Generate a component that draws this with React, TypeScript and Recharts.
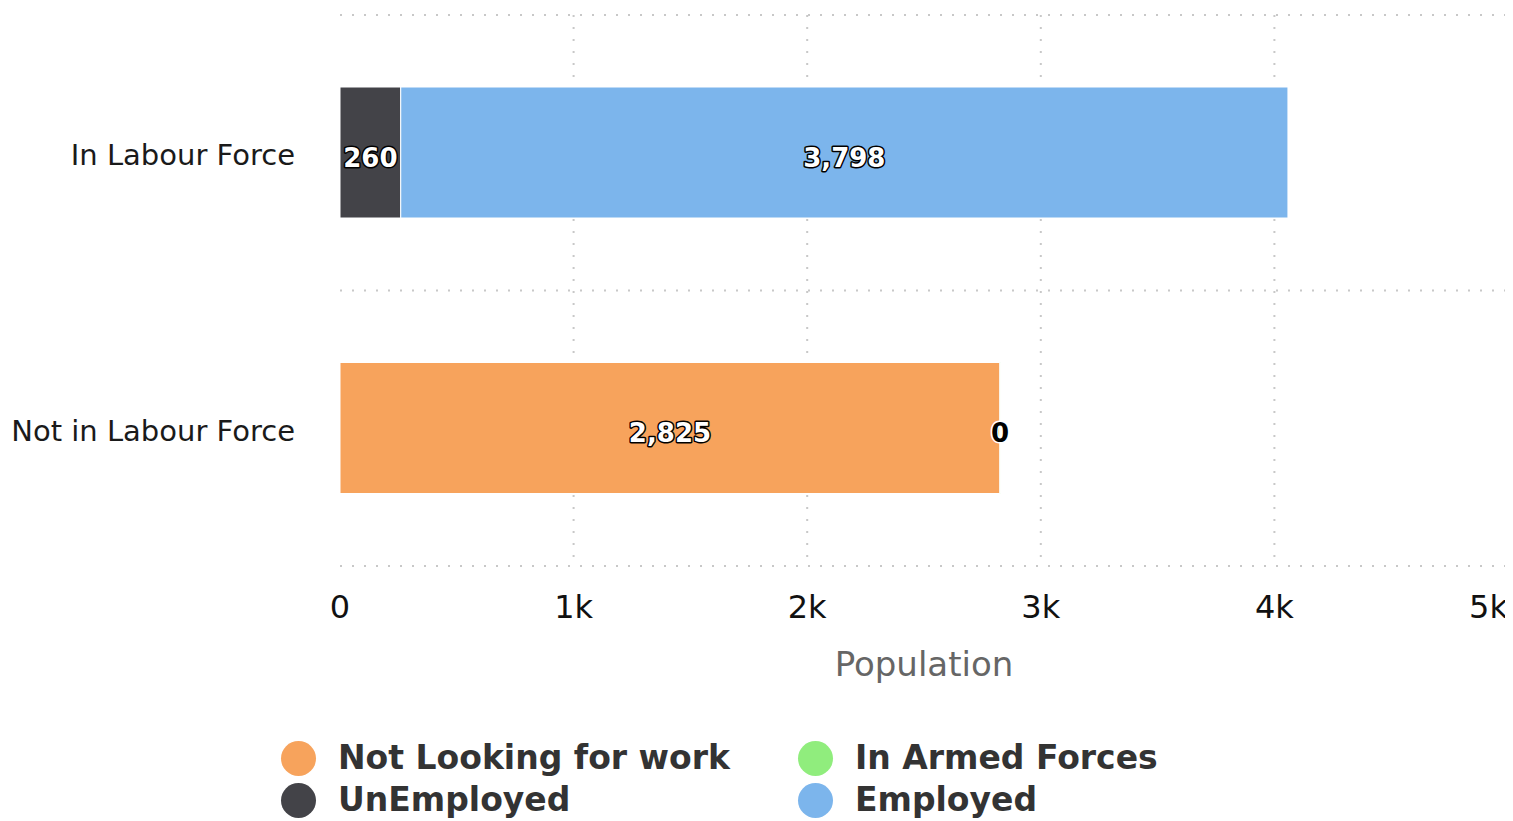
import React from 'react';
import { BarChart, Bar, XAxis, YAxis, CartesianGrid, Legend, LabelList } from 'recharts';

const categories = ['In Labour Force', 'Not in Labour Force'];
const notLooking: (number | null)[] = [null, 2825];
const armedForces: (number | null)[] = [null, 0];
const unemployed: (number | null)[] = [260, null];
const employed: (number | null)[] = [3798, null];
const xTicks = [0, 1000, 2000, 3000, 4000, 5000];

const FONT = "'DejaVu Sans', sans-serif";

const series = [
  { key: 'notLooking', name: 'Not Looking for work', color: '#f7a35c', values: notLooking },
  { key: 'armedForces', name: 'In Armed Forces', color: '#90ed7d', values: armedForces },
  { key: 'unemployed', name: 'UnEmployed', color: '#434348', values: unemployed },
  { key: 'employed', name: 'Employed', color: '#7cb5ec', values: employed },
];

const data = categories.map((c, i) => {
  const row: Record<string, any> = { category: c };
  series.forEach((s) => {
    row[s.key] = s.values[i];
  });
  return row;
});

const fmtK = (v: number) => (v === 0 ? '0' : `${v / 1000}k`);

const makeLabel = (key: string) => (props: any) => {
  const { x, y, width, height } = props;
  const row = data.find((d) => {
    return props.payload ? d.category === props.payload.category : false;
  });
  let v: any = props.value;
  if (row) v = row[key];
  if (v == null || Number.isNaN(Number(v))) return null;
  const cx = Number(x) + Number(width) / 2;
  const cy = Number(y) + Number(height) / 2 + 5;
  const inside = v > 0;
  return (
    <text
      x={cx}
      y={cy}
      dy="0.355em"
      textAnchor="middle"
      fontFamily={FONT}
      fontSize={26}
      fontWeight="bold"
      fill={inside ? '#ffffff' : '#000000'}
      stroke={inside ? '#000000' : '#ffffff'}
      strokeWidth={3}
      strokeLinejoin="round"
      paintOrder="stroke"
    >
      {Number(v).toLocaleString('en-US')}
    </text>
  );
};

const XTick = (props: any) => {
  const { x, y, payload } = props;
  const isLast = payload.value === xTicks[xTicks.length - 1];
  return (
    <text
      x={x}
      y={y}
      dy="0.71em"
      textAnchor={isLast ? 'end' : 'middle'}
      fontFamily={FONT}
      fontSize={32}
      fill="#111111"
    >
      {fmtK(payload.value)}
    </text>
  );
};

const YTick = (props: any) => {
  const { x, y, payload } = props;
  return (
    <text x={x} y={y + 2} dy="0.355em" textAnchor="end" fontFamily={FONT} fontSize={29} fill="#1a1a1a">
      {payload.value}
    </text>
  );
};

const renderLegend = () => {
  return (
    <div
      style={{
        display: 'grid',
        gridTemplateColumns: '517px 517px',
        paddingLeft: 273,
        paddingTop: 1,
        fontFamily: FONT,
      }}
    >
      {series.map((s) => (
        <div key={s.key} style={{ display: 'flex', alignItems: 'center', height: 42 }}>
          <span
            style={{
              display: 'inline-block',
              width: 35,
              height: 35,
              borderRadius: '50%',
              background: s.color,
              marginRight: 22,
            }}
          />
          <span style={{ fontSize: 33, fontWeight: 'bold', color: '#333333', lineHeight: '42px' }}>
            {s.name}
          </span>
        </div>
      ))}
    </div>
  );
};

export default function App() {
  return (
    <div style={{ width: 1505, height: 813, fontFamily: FONT }}>
      <BarChart
        width={1505}
        height={813}
        data={data}
        layout="vertical"
        margin={{ top: 7, right: 5, left: 0, bottom: 0 }}
        barSize={131}
      >
        <CartesianGrid
          stroke="#c8c8c8"
          strokeWidth={2}
          strokeDasharray="2 10"
          horizontalCoordinatesGenerator={({ offset }: any) => [
            offset.top,
            offset.top + offset.height / 2,
            offset.top + offset.height,
          ]}
          verticalCoordinatesGenerator={({ offset }: any) =>
            xTicks.slice(1).map((t) => offset.left + (offset.width * t) / xTicks[xTicks.length - 1] - (t === xTicks[xTicks.length - 1] ? 1 : 0))
          }
        />
        <XAxis
          type="number"
          domain={[0, 5000]}
          ticks={xTicks}
          interval={0}
          height={170}
          tickLine={false}
          axisLine={false}
          tickSize={0}
          tickMargin={29}
          tick={<XTick />}
          label={{
            value: 'Population',
            position: 'insideTop',
            offset: 86,
            fill: '#666666',
            fontSize: 34,
            fontFamily: FONT,
          }}
        />
        <YAxis
          type="category"
          dataKey="category"
          width={332}
          tickLine={false}
          axisLine={false}
          tickSize={0}
          tickMargin={45}
          tick={<YTick />}
        />
        <Legend verticalAlign="bottom" height={85} content={renderLegend} />
        {series.map((s) => (
          <Bar
            key={s.key}
            dataKey={s.key}
            name={s.name}
            stackId="a"
            fill={s.color}
            stroke="#ffffff"
            strokeWidth={1}
            minPointSize={(v: any, i: number) => (s.values[i] === 0 ? 0.5 : 0)}
            isAnimationActive={false}
          >
            <LabelList dataKey={s.key} content={makeLabel(s.key)} />
          </Bar>
        ))}
      </BarChart>
    </div>
  );
}
